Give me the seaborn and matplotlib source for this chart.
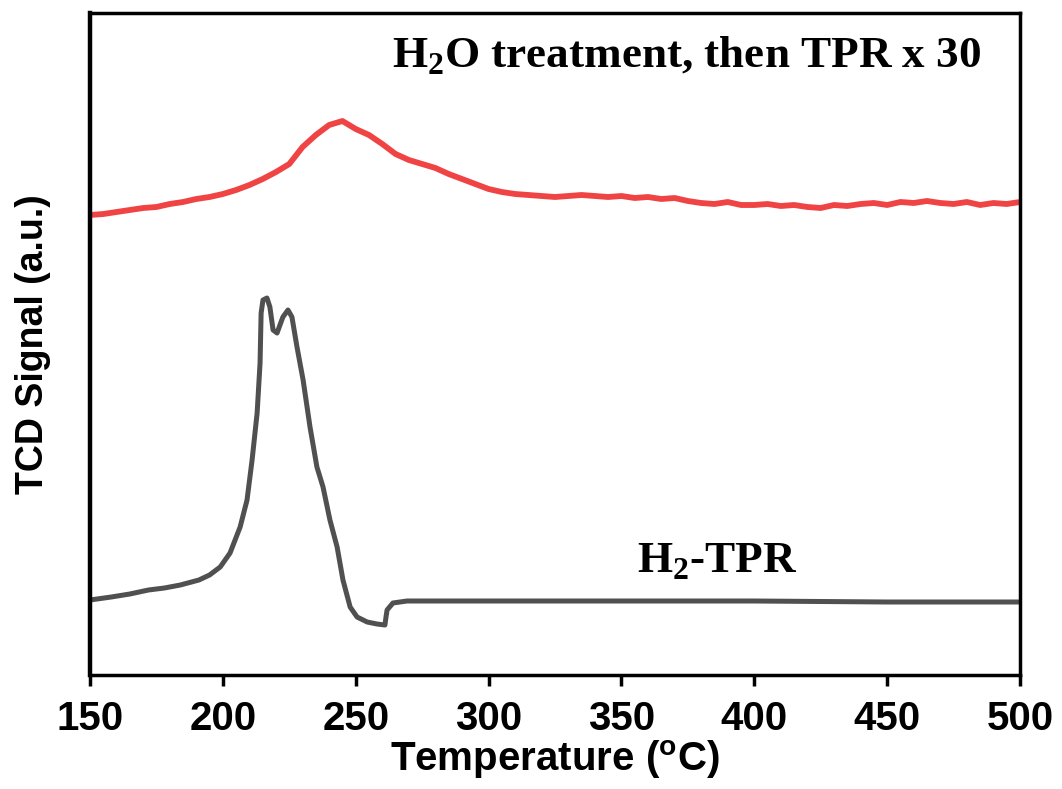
import numpy as np
import pandas as pd
import matplotlib
matplotlib.use("Agg")
import matplotlib.pyplot as plt
import seaborn as sns

# H2-TPR (black) curve
tpr_temp = [150, 158, 165, 172, 178, 184, 191, 195, 199, 202.7, 206.5, 209.1, 211.0, 212.9,
            214.0, 214.4, 215.1, 216.6, 217.7, 218.9, 220.4, 222.6, 224.5, 226.0, 227.9,
            230.2, 232.8, 235.4, 237.7, 240.3, 243.0, 245.2, 247.9, 250.5, 254.3, 258.0,
            261.0, 261.4, 261.8, 264.0, 269.3, 274.2, 300, 350, 400, 450, 500]
tpr_sig = [75, 78, 81, 85, 87, 90, 95, 100, 108, 122, 148, 175, 215, 262,
           312, 362, 375, 377, 368, 345, 342, 358, 365, 358, 328,
           295, 248, 208, 188, 155, 128, 95, 68, 58, 53, 51,
           50, 58, 65, 72, 74, 74, 74, 74, 74, 73, 73]

# H2O treatment, then TPR x30 (red) curve
h2o_temp = list(range(150, 501, 5))
h2o_sig = [460, 461, 463, 465, 467, 468, 471, 473, 476, 478, 481, 485, 490, 496, 503,
           511, 528, 540, 550, 554, 546, 540, 531, 521, 515, 511, 507, 501, 496, 491,
           486, 483, 481, 480, 479, 478, 479, 480, 479, 478, 479, 477, 478, 476, 477,
           474, 472, 471, 473, 470, 470, 471, 469, 470, 468, 467, 470, 469, 471, 472,
           470, 473, 472, 474, 472, 471, 473, 470, 472, 471, 473]

sns.set_style("white")
plt.rcParams['font.family'] = ['Liberation Sans', 'DejaVu Sans']
plt.rcParams['mathtext.fontset'] = 'custom'
plt.rcParams['mathtext.rm'] = 'Liberation Serif:bold'
plt.rcParams['mathtext.bf'] = 'Liberation Serif:bold'
plt.rcParams['text.color'] = 'black'
plt.rcParams['axes.labelcolor'] = 'black'
plt.rcParams['xtick.color'] = 'black'

fig = plt.figure(figsize=(10.62, 7.89), dpi=100)
ax = fig.add_axes([90/1062, 1-675/789, (1020-90)/1062, (675-13)/789])

df_tpr = pd.DataFrame({'T': tpr_temp, 'S': tpr_sig})
df_h2o = pd.DataFrame({'T': h2o_temp, 'S': h2o_sig})
sns.lineplot(data=df_tpr, x='T', y='S', ax=ax, color='#505050', lw=3.6, sort=False)
sns.lineplot(data=df_h2o, x='T', y='S', ax=ax, color='#F04444', lw=4.2, sort=False)

ax.set_xlim(150, 500)
ax.set_ylim(0, 662)
ax.set_xticks([150, 200, 250, 300, 350, 400, 450, 500])
ax.set_yticks([])
ax.tick_params(axis='x', direction='out', length=8, width=2.5, bottom=True,
               labelsize=29, pad=10, colors='black')
for lab in ax.get_xticklabels():
    lab.set_fontweight('bold')
for s in ax.spines.values():
    s.set_linewidth(2.5)
    s.set_color('black')
ax.spines['left'].set_linewidth(3.2)

ax.set_xlabel('Temperature ($^\\mathregular{o}$C)', fontsize=29, fontweight='bold', labelpad=0)
ax.set_ylabel('TCD Signal (a.u.)', fontsize=27, fontweight='bold', labelpad=28)

ax.text(263.7, 607, 'H$_2$O treatment, then TPR x 30', family='Liberation Serif',
        fontweight='bold', fontsize=32.5, va='baseline', ha='left', color='black')
ax.text(355.9, 102, 'H$_2$-TPR', family='Liberation Serif',
        fontweight='bold', fontsize=32.5, va='baseline', ha='left', color='black')

fig.savefig('out.png', dpi=100)
